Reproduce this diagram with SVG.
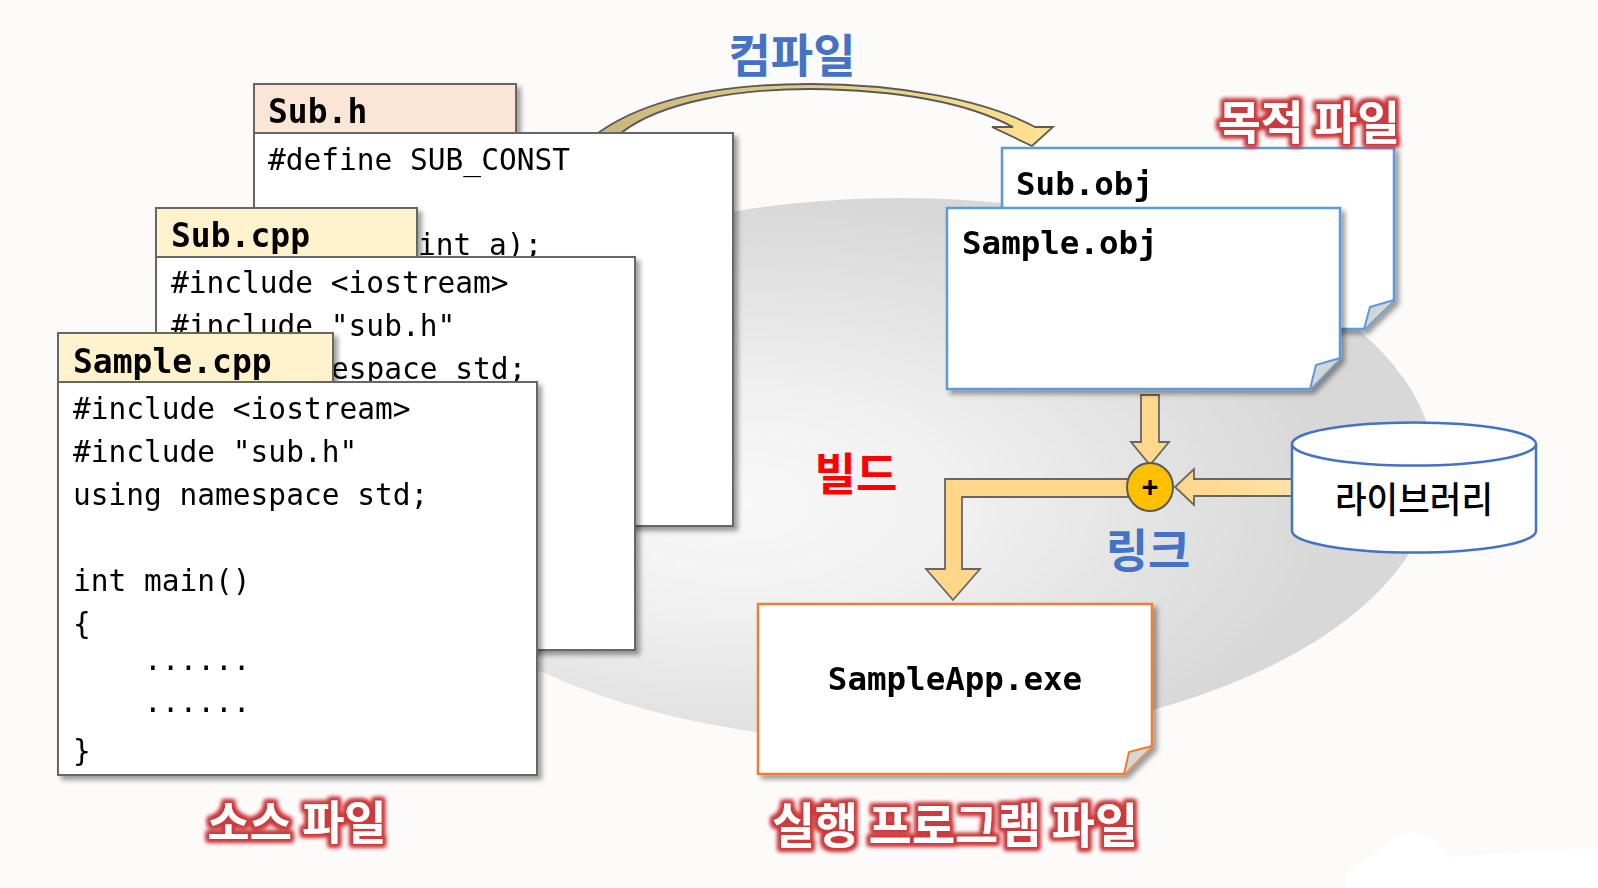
<svg xmlns="http://www.w3.org/2000/svg" width="1598" height="888" viewBox="0 0 1598 888">
<defs>
<radialGradient id="bgGrad" cx="0.35" cy="0.56" r="0.55">
<stop offset="0" stop-color="#f8f8f8"/>
<stop offset="0.35" stop-color="#f1f1f1"/>
<stop offset="1" stop-color="#d8d8d8"/>
</radialGradient>
<linearGradient id="compGrad" x1="0" y1="0" x2="1" y2="0">
<stop offset="0" stop-color="#c9b67a"/>
<stop offset="0.45" stop-color="#e2cc86"/>
<stop offset="1" stop-color="#ffe28f"/>
</linearGradient>
<linearGradient id="libGrad" x1="0" y1="0" x2="1" y2="0">
<stop offset="0" stop-color="#ffd68a"/>
<stop offset="1" stop-color="#ffe1a6"/>
</linearGradient>
<filter id="sh" x="-5%" y="-5%" width="115%" height="115%">
<feDropShadow dx="4" dy="4" stdDeviation="2.5" flood-color="#000" flood-opacity="0.38"/>
</filter>
<filter id="glow" x="-10%" y="-40%" width="120%" height="180%">
<feMorphology in="SourceAlpha" operator="dilate" radius="2.5" result="d"/>
<feGaussianBlur in="d" stdDeviation="2.2" result="b"/>
<feFlood flood-color="#cc3a3d" result="c"/>
<feComposite in="c" in2="b" operator="in" result="g"/>
<feMerge><feMergeNode in="g"/><feMergeNode in="g"/><feMergeNode in="SourceGraphic"/></feMerge>
</filter>
<style>
.code{font-family:"DejaVu Sans Mono","Liberation Mono",monospace;font-size:29.5px;fill:#000}
.title{font-family:"DejaVu Sans Mono","Liberation Mono",monospace;font-size:33px;font-weight:bold;fill:#000}
.objt{font-family:"DejaVu Sans Mono","Liberation Mono",monospace;font-size:32.5px;font-weight:bold;fill:#000}
.doc{stroke:#666;stroke-width:2;fill:#fff}
.hdrA{stroke:#666;stroke-width:2;fill:#fbe5d6}
.hdrB{stroke:#666;stroke-width:2;fill:#fff2cc}
.obj{stroke:#5b9bd5;stroke-width:2.5;fill:#fff}
.flapB{stroke:#5b9bd5;stroke-width:2;fill:#d6d6d6;stroke-linejoin:round}
.exe{stroke:#ed7d31;stroke-width:2.5;fill:#fff}
.flapO{stroke:#ed7d31;stroke-width:2;fill:#d6d6d6;stroke-linejoin:round}
.kr{font-family:"Noto Sans CJK KR","Noto Sans CJK SC",sans-serif;font-weight:bold}
.red{fill:#fff}
.arr{stroke:#666;stroke-width:1.8;stroke-linejoin:miter}
</style>
</defs>

<g id="background">
<rect x="0" y="0" width="1598" height="888" fill="#fcfbfa"/>
<path d="M1347,888 L1347,872 L1380,850 L1397,837 L1413,831 L1437,842 L1447,857 L1598,848 L1598,888 Z" fill="#ffffff"/>
<ellipse cx="900" cy="470" rx="535" ry="272" fill="url(#bgGrad)"/>
</g>

<g id="connectors">
<path id="compile-arrow" d="M598,133 C650,96 730,84 810,84 C900,84 985,100 1035,127 L1053,127 L1032,146 L992,127 L1013,127 C968,103 900,90 810,89 C740,89 662,101 621,133 Z" fill="url(#compGrad)" stroke="#595959" stroke-width="1.8"/>
<path id="obj-to-link" class="arr" d="M1141,395 L1159,395 L1159,442 L1169,442 L1150,465 L1131,442 L1141,442 Z" fill="#ffd78d"/>
<path id="lib-to-link" class="arr" d="M1292,479 L1194,479 L1194,469 L1175,487 L1194,505 L1194,496 L1292,496" fill="url(#libGrad)"/>
<path id="link-to-exe" class="arr" d="M1128,479 L945,479 L945,569 L926,569 L953,600 L980,569 L962,569 L962,497 L1128,497 Z" fill="#ffd78a"/>
</g>

<g id="sub-h" filter="url(#sh)">
<rect class="hdrA" x="254" y="84" width="262" height="49"/>
<rect class="doc" x="254" y="133" width="479" height="393"/>
<text class="title" x="268" y="123">Sub.h</text>
<text class="code" x="268" y="170">#define SUB_CONST</text>
<text class="code" x="418" y="255">int a);</text>
</g>

<g id="sub-cpp" filter="url(#sh)">
<rect class="hdrB" x="156" y="208" width="261" height="49"/>
<rect class="doc" x="156" y="257" width="479" height="393"/>
<text class="title" x="171" y="247">Sub.cpp</text>
<text class="code" x="171" y="293">#include &lt;iostream&gt;</text>
<text class="code" x="171" y="336">#include "sub.h"</text>
<text class="code" x="331" y="379">espace std;</text>
</g>

<g id="sample-cpp" filter="url(#sh)">
<rect class="hdrB" x="58" y="333" width="275" height="49"/>
<rect class="doc" x="58" y="382" width="479" height="393"/>
<text class="title" x="73" y="373">Sample.cpp</text>
<text class="code" x="73" y="419">#include &lt;iostream&gt;</text>
<text class="code" x="73" y="462">#include "sub.h"</text>
<text class="code" x="73" y="505">using namespace std;</text>
<text class="code" x="73" y="591">int main()</text>
<text class="code" x="73" y="634">{</text>
<text class="code" x="73" y="670" xml:space="preserve">    ......</text>
<text class="code" x="73" y="712" xml:space="preserve">    ......</text>
<text class="code" x="73" y="761">}</text>
</g>

<g id="sub-obj" filter="url(#sh)">
<path class="obj" d="M1002,148 L1394,148 L1394,300 L1364,329 L1002,329 Z"/>
<path class="flapB" d="M1394,300 L1370,307 L1364,329"/>
<text class="objt" x="1016" y="195">Sub.obj</text>
</g>

<g id="sample-obj" filter="url(#sh)">
<path class="obj" d="M947,208 L1340,208 L1340,358 L1310,389 L947,389 Z"/>
<path class="flapB" d="M1340,358 L1316,365 L1310,389"/>
<text class="objt" x="962" y="254">Sample.obj</text>
</g>

<g id="link-node">
<ellipse cx="1150" cy="487" rx="23" ry="24" fill="#ffc000" stroke="#595959" stroke-width="2"/>
<text x="1150" y="497" text-anchor="middle" font-family="Liberation Sans, sans-serif" font-size="29" font-weight="bold" fill="#000">+</text>
</g>

<g id="library">
<path d="M1292,444 L1292,531 A122,21.5 0 0 0 1536,531 L1536,444" fill="#fff" stroke="#4472c4" stroke-width="2.5"/>
<ellipse cx="1414" cy="444" rx="122" ry="21.5" fill="#fff" stroke="#4472c4" stroke-width="2.5"/>
<text class="kr" x="1414" y="513" text-anchor="middle" font-size="36" fill="#000" style="font-weight:500" textLength="158" lengthAdjust="spacingAndGlyphs">라이브러리</text>
</g>

<g id="exe" filter="url(#sh)">
<path class="exe" d="M758,604 L1152,604 L1152,746 L1124,774 L758,774 Z"/>
<path class="flapO" d="M1152,746 L1129,752 L1124,774"/>
<text class="objt" x="955" y="690" text-anchor="middle">SampleApp.exe</text>
</g>

<g id="labels">
<text class="kr" x="792" y="72" text-anchor="middle" font-size="46" fill="#4472c4">컴파일</text>
<text class="kr" x="856" y="491" text-anchor="middle" font-size="45" fill="#ff0000">빌드</text>
<text class="kr" x="1148" y="567" text-anchor="middle" font-size="46" fill="#4472c4">링크</text>
<text class="kr red" x="1309" y="139" text-anchor="middle" font-size="46" filter="url(#glow)" textLength="182" lengthAdjust="spacingAndGlyphs">목적 파일</text>
<text class="kr red" x="297" y="839" text-anchor="middle" font-size="46" filter="url(#glow)" textLength="179" lengthAdjust="spacingAndGlyphs">소스 파일</text>
<text class="kr red" x="955" y="843" text-anchor="middle" font-size="48" filter="url(#glow)" textLength="366" lengthAdjust="spacingAndGlyphs">실행 프로그램 파일</text>
</g>
</svg>
